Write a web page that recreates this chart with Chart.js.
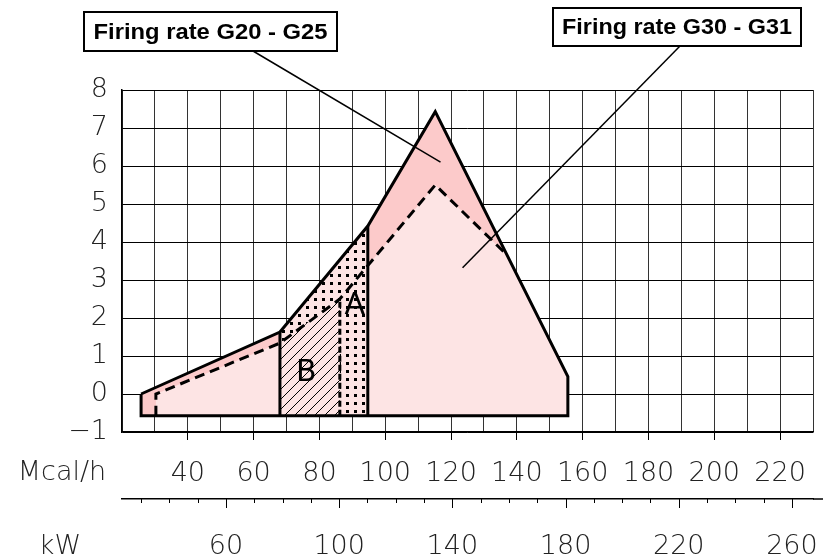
<!DOCTYPE html>
<html>
<head>
<meta charset="utf-8">
<script src="https://cdn.jsdelivr.net/npm/chart.js@4.4.1/dist/chart.umd.min.js"></script>
<style>
  html, body { margin: 0; padding: 0; background: #fff; }
  #wrap { width: 824px; height: 560px; }
</style>
</head>
<body>
<div id="wrap"><canvas id="chart" width="824" height="560"></canvas></div>
<script>
// Firing rate diagram: output in Mcal/h (x), pressure in combustion chamber in mbar (y)

const mcalLabels = [40, 60, 80, 100, 120, 140, 160, 180, 200, 220];
const kwLabels = [60, 100, 140, 180, 220, 260];
const kwMinor = [30, 40, 50, 60, 70, 80, 90, 100, 110, 120, 130, 140, 150, 160, 170, 180, 190, 200, 210, 220, 230, 240, 250, 260];
const yTicks = [-1, 0, 1, 2, 3, 4, 5, 6, 7, 8];
const KW_TO_MCAL = 0.86;

// G20 - G25 working field (solid outline)
const g20X = [25.8, 68, 94.7, 115.2, 155.5, 155.5, 25.8, 25.8];
const g20Y = [0, 1.63, 4.42, 7.43, 0.46, -0.57, -0.57, 0];

// G30 - G31 working field (dashed outline, joins the solid one on the right)
const g30X = [30.3, 30.3, 68, 86.2, 115.2, 137, 155.5, 155.5, 30.3];
const g30Y = [-0.57, 0, 1.34, 2.5, 5.5, 3.66, 0.46, -0.57, -0.57];
const g30LineX = [30.3, 30.3, 68, 86.2, 115.2, 137];
const g30LineY = [-0.57, 0, 1.34, 2.5, 5.5, 3.66];

// zone B (hatched) and zone A (dotted)
const zoneBX = [68, 68, 86.2, 86.2, 68];
const zoneBY = [-0.57, 1.34, 2.5, -0.57, -0.57];
const zoneAX = [68, 68, 94.7, 94.7, 86.2, 86.2, 68];
const zoneAY = [1.34, 1.63, 4.42, -0.57, -0.57, 2.5, 1.34];

// zone separators
const sepB = { x: 68, y: [-0.57, 1.63] };
const sepA = { x: 86.2, y: [-0.57, 2.5] };
const sepRight = { x: 94.7, y: [-0.57, 4.42] };

const zoneLabels = [
  { text: 'A', x: 90.7, y: 2.3 },
  { text: 'B', x: 76, y: 0.55 }
];

const callouts = [
  { text: 'Firing rate G20 - G25', tipX: 116.8, tipY: 6.1 },
  { text: 'Firing rate G30 - G31', tipX: 123.5, tipY: 3.32 }
];

function pts(xs, ys) {
  return xs.map((x, i) => ({ x: x, y: ys[i] }));
}

function hatchPattern() {
  const c = document.createElement('canvas');
  c.width = 10; c.height = 10;
  const g = c.getContext('2d');
  g.fillStyle = '#fde4e4';
  g.fillRect(0, 0, 10, 10);
  g.strokeStyle = '#000';
  g.lineWidth = 1;
  g.beginPath();
  g.moveTo(0, 10); g.lineTo(10, 0);
  g.moveTo(-1, 1); g.lineTo(1, -1);
  g.moveTo(9, 11); g.lineTo(11, 9);
  g.stroke();
  return g.createPattern(c, 'repeat');
}

function dotPattern() {
  const c = document.createElement('canvas');
  c.width = 8; c.height = 8;
  const g = c.getContext('2d');
  g.fillStyle = '#fde4e4';
  g.fillRect(0, 0, 8, 8);
  g.fillStyle = '#000';
  g.fillRect(2, 2, 3, 3);
  return g.createPattern(c, 'repeat');
}

const axisFont = { family: '"DejaVu Sans"', size: 27, weight: 200 };

function area(xs, ys, fillStyle) {
  return { data: pts(xs, ys), fill: 'shape', backgroundColor: fillStyle, borderWidth: 0, pointRadius: 0 };
}

function outline(xs, ys, width, dash) {
  return { data: pts(xs, ys), fill: false, borderColor: '#000', borderWidth: width,
           borderDash: dash || [], pointRadius: 0, borderJoinStyle: 'miter', borderCapStyle: 'butt' };
}

// bottom-to-top drawing order
const layers = [
  area(g20X, g20Y, '#fccaca'),
  area(g30X, g30Y, '#fde4e4'),
  area(zoneBX, zoneBY, hatchPattern()),
  area(zoneAX, zoneAY, dotPattern()),
  outline(g30LineX, g30LineY, 3, [10, 6]),
  outline([sepA.x, sepA.x], sepA.y, 3, [6, 3]),
  outline([sepB.x, sepB.x], sepB.y, 3),
  outline([sepRight.x, sepRight.x], sepRight.y, 3),
  outline(g20X, g20Y, 3)
];
layers.forEach((d, i) => { d.order = layers.length - i; });

// callout boxes: [left, top, right, bottom], leader start, text width
const calloutBoxes = [
  { box: [84, 12, 337, 51], from: [253, 51], textW: 234 },
  { box: [553, 8, 801, 46], from: [680, 46], textW: 230 }
];

const overlay = {
  id: 'overlay',
  afterDraw(chart) {
    const { ctx } = chart;
    const x = chart.scales.x, y = chart.scales.y, kw = chart.scales.kw;
    ctx.save();

    // kW axis: line runs a little past the plot, tick marks below it
    ctx.strokeStyle = '#000';
    ctx.lineWidth = 1.5;
    ctx.beginPath();
    ctx.moveTo(kw.right, kw.top);
    ctx.lineTo(kw.right + 10, kw.top);
    ctx.stroke();
    ctx.lineWidth = 1;
    kwMinor.forEach(v => {
      const px = Math.round(kw.getPixelForValue(v)) + 0.5;
      const len = kwLabels.includes(v) ? 9 : 4;
      ctx.beginPath();
      ctx.moveTo(px, kw.top);
      ctx.lineTo(px, kw.top + len);
      ctx.stroke();
    });

    // unit names
    ctx.fillStyle = '#222';
    ctx.font = '200 27px "DejaVu Sans"';
    ctx.textAlign = 'center';
    ctx.textBaseline = 'middle';
    ctx.fillText('Mcal/h', 62, x.top + 41);
    ctx.fillText('kW', 60, kw.top + 48);

    // zone letters
    ctx.fillStyle = '#000';
    ctx.font = '30px "DejaVu Sans"';
    zoneLabels.forEach(l => {
      ctx.fillText(l.text, x.getPixelForValue(l.x), y.getPixelForValue(l.y));
    });

    // callouts
    callouts.forEach((c, i) => {
      const b = calloutBoxes[i];
      ctx.strokeStyle = '#000';
      ctx.lineWidth = 1.5;
      ctx.beginPath();
      ctx.moveTo(b.from[0], b.from[1]);
      ctx.lineTo(x.getPixelForValue(c.tipX), y.getPixelForValue(c.tipY));
      ctx.stroke();
      const [l, t, r, bt] = b.box;
      ctx.fillStyle = '#fff';
      ctx.fillRect(l, t, r - l, bt - t);
      ctx.lineWidth = 2;
      ctx.strokeRect(l, t, r - l, bt - t);
      ctx.fillStyle = '#000';
      ctx.font = 'bold 22px "Liberation Sans", Arial, sans-serif';
      const w = ctx.measureText(c.text).width;
      ctx.save();
      ctx.translate((l + r) / 2, (t + bt) / 2 + 1);
      ctx.scale(b.textW / w, 1);
      ctx.fillText(c.text, 0, 0);
      ctx.restore();
    });
    ctx.restore();
  }
};

function noSidePadding(s) {
  s.paddingLeft = 0;
  s.paddingRight = 0;
}

const gridX = [];
for (let v = 20; v <= 230; v += 10) gridX.push(v);

new Chart(document.getElementById('chart'), {
  type: 'line',
  data: { datasets: layers },
  options: {
    responsive: false,
    animation: false,
    events: [],
    layout: { padding: { top: 90, right: 11, left: 0, bottom: 0 } },
    plugins: { legend: { display: false }, tooltip: { enabled: false } },
    scales: {
      x: {
        type: 'linear', position: 'bottom', min: 20, max: 230, z: 1,
        afterBuildTicks: s => { s.ticks = gridX.map(v => ({ value: v })); },
        afterFit: s => { s.height = 67; noSidePadding(s); },
        grid: {
          color: '#333', lineWidth: 1, tickLength: 8,
          tickColor: c => (c.tick && mcalLabels.includes(c.tick.value)) ? '#000' : 'rgba(0,0,0,0)'
        },
        border: { display: true, color: '#000', width: 1.5 },
        ticks: {
          autoSkip: false, maxRotation: 0, padding: 18, color: '#222', font: axisFont,
          callback: v => mcalLabels.includes(v) ? String(v) : ''
        }
      },
      kw: {
        type: 'linear', position: 'bottom', min: 20 / KW_TO_MCAL, max: 230 / KW_TO_MCAL,
        afterBuildTicks: s => { s.ticks = kwLabels.map(v => ({ value: v })); },
        afterFit: s => { s.height = 61; noSidePadding(s); },
        grid: { display: false, drawTicks: false },
        border: { display: true, color: '#000', width: 1.5 },
        ticks: { autoSkip: false, maxRotation: 0, padding: 32, color: '#222', font: axisFont }
      },
      y: {
        type: 'linear', min: -1, max: 8, z: 1,
        afterBuildTicks: s => { s.ticks = yTicks.map(v => ({ value: v })); },
        afterFit: s => { s.width = 122; },
        grid: { color: '#000', lineWidth: 1, drawTicks: false },
        border: { display: true, color: '#000', width: 1.5 },
        ticks: {
          padding: 14, color: '#222', font: axisFont,
          callback: v => v < 0 ? '\u2212' + Math.abs(v) : String(v)
        }
      }
    }
  },
  plugins: [overlay]
});
</script>
</body>
</html>
